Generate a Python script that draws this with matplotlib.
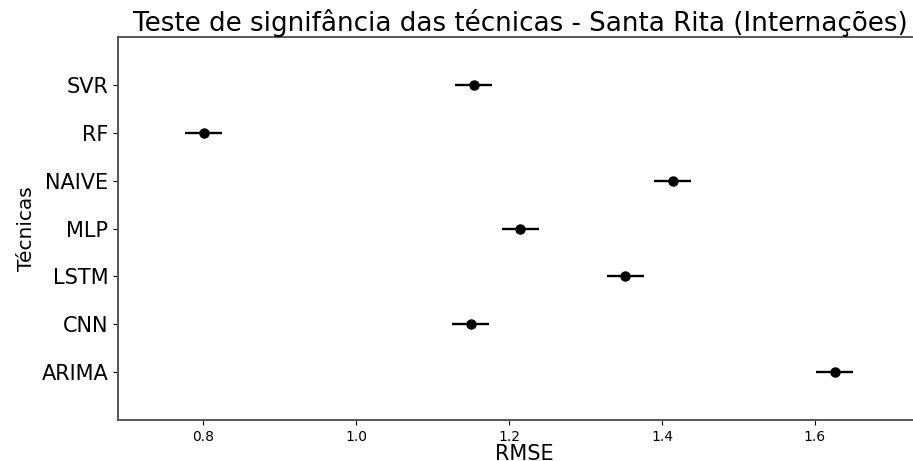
import matplotlib
matplotlib.use("Agg")
import matplotlib.pyplot as plt
import numpy as np

# tecnicas e RMSE medio
tecnicas = ['ARIMA', 'CNN', 'LSTM', 'MLP', 'NAIVE', 'RF', 'SVR']
rmse = [1.626, 1.150, 1.352, 1.215, 1.414, 0.801, 1.154]
meia_largura = [0.024, 0.024, 0.024, 0.024, 0.024, 0.024, 0.024]

fig = plt.figure(figsize=(9.13, 4.61), dpi=100)
ax = fig.add_axes([0.1292, 0.0889, 0.89, 0.8308])

ypos = np.arange(len(tecnicas))
ax.errorbar(rmse, ypos, xerr=meia_largura, fmt='o', color='black',
            ecolor='black', markersize=6.5, elinewidth=1.7, capsize=0)

ax.set_yticks(ypos)
ax.set_yticklabels(tecnicas, fontsize=15)
ax.set_ylim(-1, len(tecnicas))
# eixo x: 0.8 em ~203 px, 1.6 em ~816 px
x0 = 0.8 - (203 - 118) / 765.0
x1 = x0 + 0.89 * 913 / 765.0
ax.set_xlim(x0, x1)
ax.set_xticks([0.8, 1.0, 1.2, 1.4, 1.6])
ax.tick_params(axis='x', labelsize=10)

for s in ax.spines.values():
    s.set_color('#555555')
    s.set_linewidth(1.4)
ax.spines['right'].set_visible(False)

ax.set_title('Teste de signifância das técnicas - Santa Rita (Internações)',
             fontsize=18.8, loc='left', x=0.018, pad=3)
ax.set_xlabel('RMSE', fontsize=15, labelpad=0)
ax.set_ylabel('Técnicas', fontsize=14.5, labelpad=4)

fig.savefig('out.png', dpi=100)
